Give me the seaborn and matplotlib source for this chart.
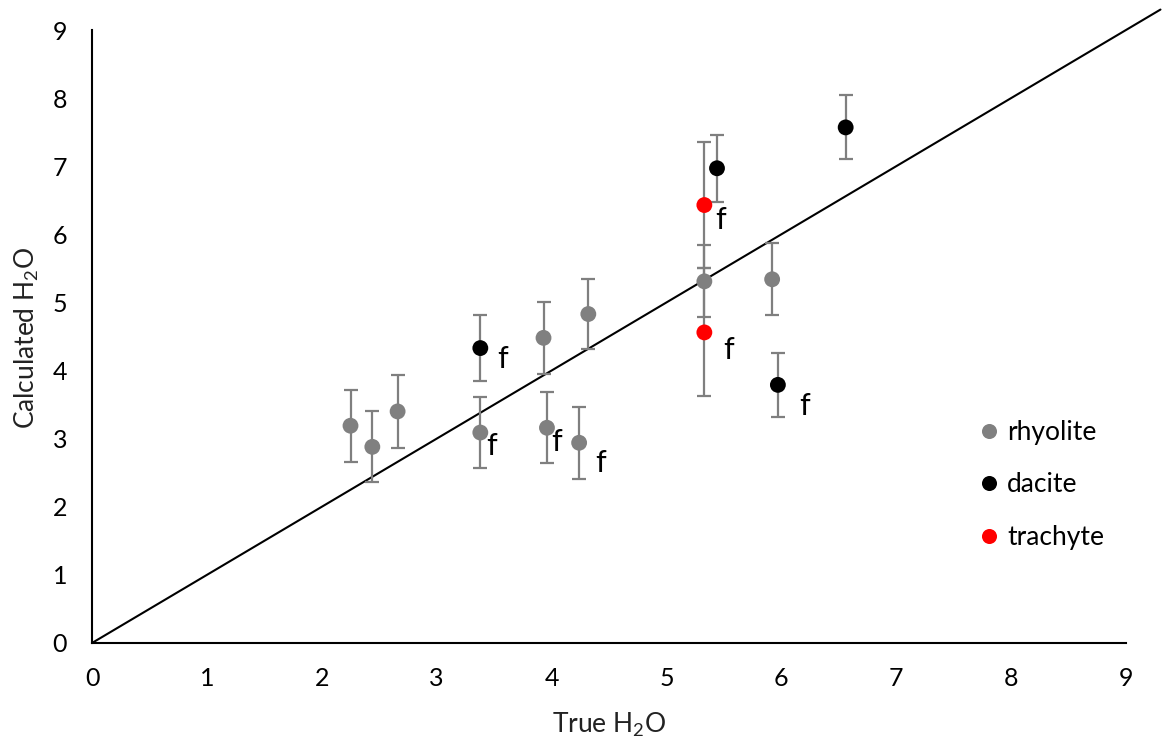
import matplotlib
matplotlib.use("Agg")
import matplotlib.pyplot as plt
import seaborn as sns
import pandas as pd

# ---- data ----
rhy_x = [2.25, 2.44, 2.66, 3.38, 3.96, 4.24, 3.93, 4.32, 5.33, 5.92]
rhy_y = [3.19, 2.88, 3.40, 3.09, 3.16, 2.94, 4.48, 4.83, 5.31, 5.34]
rhy_err = [0.53, 0.52, 0.53, 0.52, 0.52, 0.53, 0.53, 0.52, 0.53, 0.53]
rhy_f = [False, False, False, True, True, True, False, False, False, False]

dac_x = [3.38, 5.44, 6.56, 5.97]
dac_y = [4.33, 6.97, 7.57, 3.79]
dac_err = [0.48, 0.49, 0.47, 0.47]
dac_f = [True, False, False, True]

tra_x = [5.33, 5.33]
tra_y = [6.43, 4.56]
tra_err = [0.93, 0.94]
tra_f = [True, True]

rock_types = ["rhyolite", "dacite", "trachyte"]
colors = {"rhyolite": "#808080", "dacite": "#000000", "trachyte": "#FF0000"}

# label offsets (pixels) for the "f" markers, in order of flagged points
f_offsets = [(11, -13), (10, -14), (21, -20), (22, -11), (27, -21), (16, -15), (24, -18)]

df = pd.concat([
    pd.DataFrame({"x": rhy_x, "y": rhy_y, "err": rhy_err, "f": rhy_f, "type": "rhyolite"}),
    pd.DataFrame({"x": dac_x, "y": dac_y, "err": dac_err, "f": dac_f, "type": "dacite"}),
    pd.DataFrame({"x": tra_x, "y": tra_y, "err": tra_err, "f": tra_f, "type": "trachyte"}),
], ignore_index=True)

sns.set_theme(style="white")
plt.rcParams["font.family"] = ["Lato", "DejaVu Sans"]
plt.rcParams["mathtext.default"] = "regular"

fig = plt.figure(figsize=(11.65, 7.49), dpi=100)
ax = fig.add_axes([92 / 1165, 106 / 749, (1126 - 92) / 1165, (643 - 30) / 749])

# 1:1 line
ax.plot([0, 9.3], [0, 9.3], color="black", lw=1.5, clip_on=False, zorder=1)

# error bars
ax.errorbar(df["x"], df["y"], yerr=df["err"], fmt="none", ecolor="#7f7f7f",
            elinewidth=1.6, capsize=5, capthick=1.6, zorder=2)

sns.scatterplot(data=df, x="x", y="y", hue="type", hue_order=rock_types,
                palette=colors, s=130, linewidth=0, ax=ax, zorder=3)

# "f" labels
flagged = df[df["f"]]
for (xi, yi), (dx, dy) in zip(flagged[["x", "y"]].values, f_offsets):
    ax.annotate("f", (xi, yi), xytext=(dx, dy), textcoords="offset pixels",
                ha="center", va="center", fontsize=22, color="black")

ax.set_xlim(0, 9)
ax.set_ylim(0, 9)
ax.set_xticks(range(10))
ax.set_yticks(range(10))
ax.tick_params(axis="both", length=0, labelsize=18, colors="black")
ax.tick_params(axis="x", pad=17)
ax.tick_params(axis="y", pad=18)
for s in ["top", "right"]:
    ax.spines[s].set_visible(False)
for s in ["left", "bottom"]:
    ax.spines[s].set_color("black")
    ax.spines[s].set_linewidth(1.5)

ax.set_xlabel("True H$_2$O", fontsize=19, color="#222222", va="center")
ax.set_ylabel("Calculated H$_2$O", fontsize=19, color="#222222", va="center")
ax.xaxis.set_label_coords(0.5, -(725 - 643) / 613, transform=ax.transAxes)
ax.yaxis.set_label_coords(-(92 - 27) / 1034, (643 - 338) / 613, transform=ax.transAxes)

handles, labels = ax.get_legend_handles_labels()
leg = ax.legend(handles, labels, loc="center left", bbox_to_anchor=(957 / 1165, 1 - 485 / 749),
                bbox_transform=fig.transFigure, frameon=False, fontsize=19,
                labelspacing=1.05, handlelength=0.6, handletextpad=0.4, markerscale=0.95)
for t in leg.get_texts():
    t.set_color("black")

fig.savefig("out.png", dpi=100)
